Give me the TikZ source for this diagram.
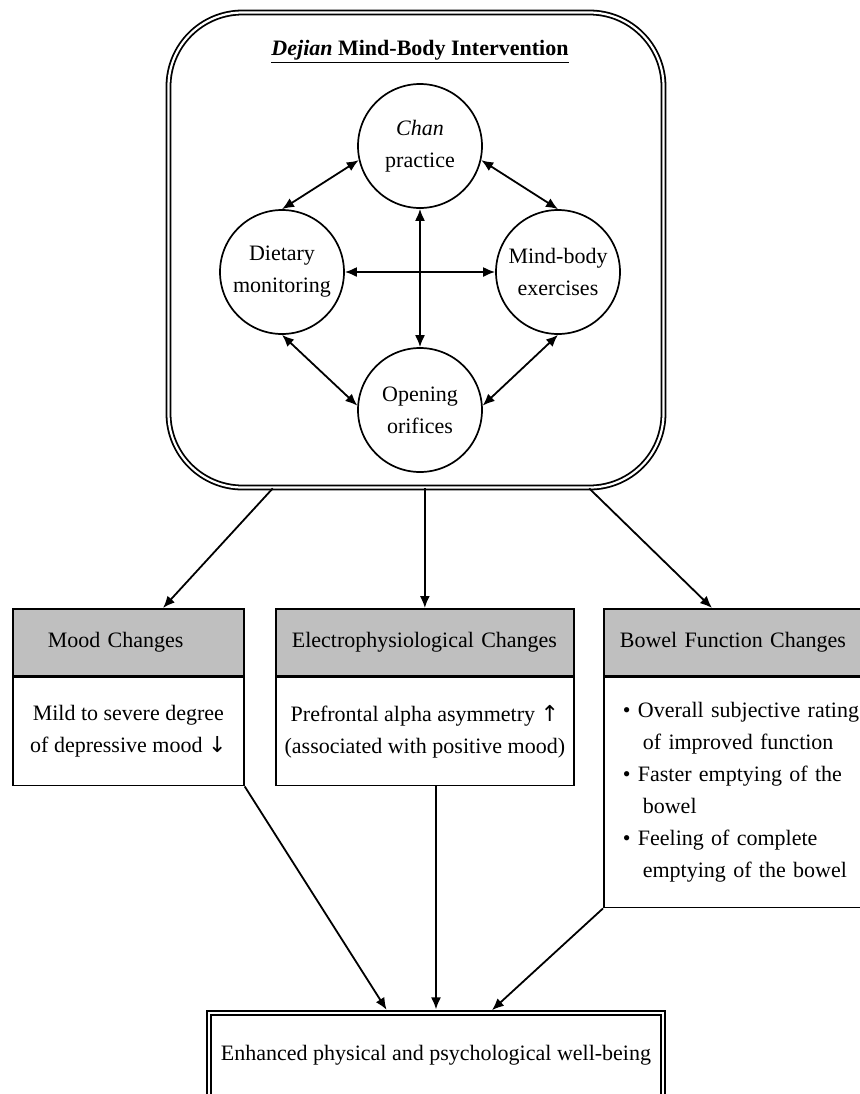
\documentclass[tikz,border=0pt]{standalone}
\usepackage{fontspec}
\setmainfont{Liberation Serif}
\newfontfamily\arrowfont{DejaVu Sans}
\usetikzlibrary{positioning, arrows, arrows.meta}

\tikzset{
	circ/.style={draw, circle, line width=0.85pt, minimum size=62pt, inner sep=0pt, align=center},
	head/.style={draw, fill=black!25, line width=0.85pt, minimum height=33.5pt, inner xsep=8pt, text width=#1, align=left},
	body/.style={draw, fill=white, line width=0.85pt, minimum width=#1, minimum height=54pt, align=center},
	frame/.style={draw, double, line width=0.9pt, double distance=1.1pt},
	arr/.style={-{Latex[length=6pt, width=5pt]}, line width=0.9pt},
	dblarr/.style={{Latex[length=6pt, width=5pt]}-{Latex[length=6pt, width=5pt]}, line width=0.9pt}
}

\begin{document}
\begin{tikzpicture}[x=0.5pt, y=-0.5pt, font=\fontsize{11}{16}\selectfont]
			\useasboundingbox (0,0) rectangle (860,1094);
			\clip (0,0) rectangle (860,1094);

			\node[frame, rounded corners=37pt, minimum width=247.5pt, minimum height=237.5pt] (Mbi) at (416,250) {};
			\node (Title) at (420,52) {\underline{\textbf{\textit{Dejian} Mind-Body Intervention}}};

			\node[circ] (Chan) at (420,146) {\textit{Chan}\\practice};
			\node[circ] (Diet) at (282,272) {Dietary\\monitoring};
			\node[circ] (Mind) at (558,272) {Mind-body\\exercises};
			\node[circ] (Open) at (420,410) {Opening\\orifices};

			\path[dblarr]
			(Chan.193) edge (Diet.north)
			(Chan.-13) edge (Mind.north)
			(Diet.south) edge (Open.176)
			(Mind.south) edge (Open.4)
			(Chan.south) edge (Open.north)
			(Diet.east) edge (Mind.west);

			% the three kinds of change
			\node[head=99.5pt, anchor=north west] (MoodH) at (12,608) {\hspace*{9.5pt}Mood Changes};
			\node[body=115.5pt, below=0pt of MoodH] (MoodB) {Mild to severe degree\\of depressive mood {\arrowfont ↓}};

			\node[head=133pt, anchor=north west] (ElecH) at (275,608) {Electrophysiological Changes};
			\node[body=149pt, below=0pt of ElecH] (ElecB) {Prefrontal alpha asymmetry {\arrowfont ↑}\\(associated with positive mood)};

			\node[head=128pt, anchor=north west] (BowelH) at (603,608) {Bowel Function Changes};
			\node[draw, fill=white, line width=0.85pt, inner xsep=9.5pt, text width=125pt, minimum height=115pt, align=left, below=0pt of BowelH] (BowelB) {\textbullet\ Overall subjective rating\\
				\hspace*{10pt}of improved function\\
				\textbullet\ Faster emptying of the\\
				\hspace*{10pt}bowel\\
				\textbullet\ Feeling of complete\\
				\hspace*{10pt}emptying of the bowel};

			\node[frame, line width=1pt, minimum width=227pt, minimum height=42pt] (Wb) at (436,1055) {Enhanced physical and psychological well-being};

			\path[arr]
			(Mbi.239) edge ([xshift=75.5pt]MoodH.north west)
			(ElecH.north |- Mbi.south) edge (ElecH.north)
			(Mbi.-54) edge ([xshift=54.5pt]BowelH.north west);

			\path[arr, shorten >=1.3pt]
			(MoodB.south east) edge ([xshift=-24pt]Wb.north)
			(ElecB.south -| Wb.north) edge (Wb.north)
			(BowelB.south west) edge ([xshift=27pt]Wb.north);
		\end{tikzpicture}
\end{document}
